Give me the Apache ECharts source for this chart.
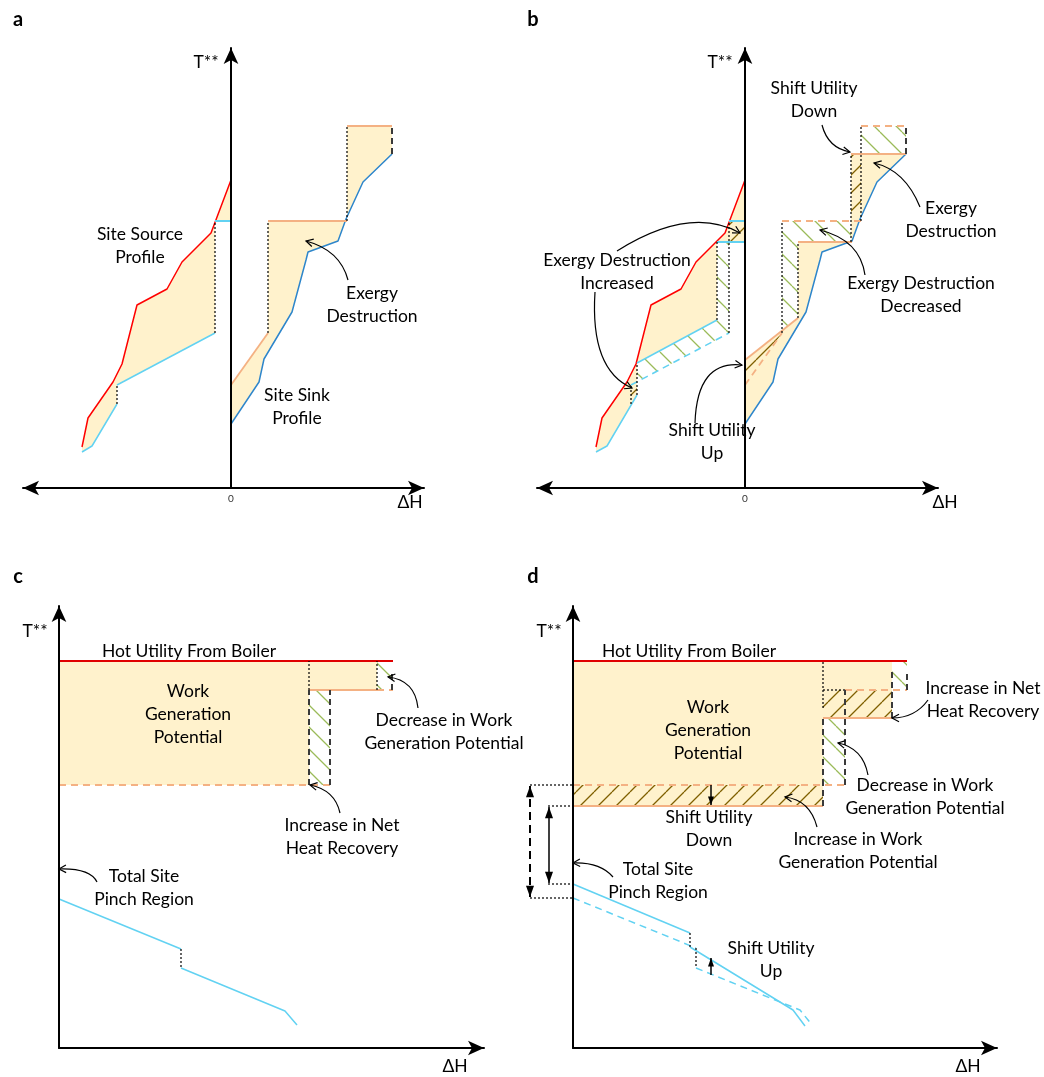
<!DOCTYPE html>
<html><head><meta charset="utf-8">
<script src="https://cdn.jsdelivr.net/npm/echarts@6/dist/echarts.min.js"></script>
<style>html,body{margin:0;padding:0;background:#fff}#c{width:1044px;height:1077px}</style>
</head><body><div id="c"></div>
<script>
// ================= DATA =================
// Panels a & b : site source / sink profiles (ΔH, T**)
const sourceHot      = [[-149,41],[-143,70],[-118,106],[-109,124],[-94,183],[-64,199],[-49,226],[-20,255],[0,308]];
const sourceColdLow  = [[-149,36],[-139,42],[-114,84]];
const sourceColdMid  = [[-114,103],[-16,155]];
const sourceColdTop  = [[-16,267],[0,267]];
const sinkCold       = [[0,64],[28,106],[33,129],[61,176],[75,228],[77,236],[107,247],[115,269],[132,306],[161,334]];
const sinkHotLow     = [[0,103],[37,155]];
const sinkHotMid     = [[37,267],[116,267]];
const sinkHotTop     = [[116,362],[161,362]];
// Panel b : shifted utility levels
const bSourceColdLow = [[-149,36],[-138,42],[-108,93]];
const bSourceColdMid = [[-108,125],[-28,168]];
const bSourceColdTop = [[-28,246],[0,246]];
const bSinkHotLow    = [[0,128],[53,170]];
const bSinkHotMid    = [[53,246],[107,246]];
const bSinkHotTop    = [[106,334],[161,334]];
// Panels c & d : total site profiles
const hotUtility     = [[0,387],[334,387]];
const cWorkBox       = [[0,263],[250,263],[250,358],[318,358],[318,387],[0,387]];
const cPinchLow      = [[0,149],[122,99]];
const cPinchHigh     = [[122,80],[226,37],[238,23]];
const dWorkBox       = [[0,242],[250,242],[250,330],[319,330],[319,387],[0,387]];
const dPinchNewLow   = [[0,164],[117,115]];
const dPinchNewHigh  = [[117,101],[220,38],[232,22]];
const dPinchOldLow   = [[0,150],[123,100]];
const dPinchOldHigh  = [[123,80],[227,38],[239,23]];

// ================= STYLE =================
const FONT = 'Lato, "Open Sans", sans-serif';
const TXT = '17.5px ' + FONT, BOLD = 'bold 20px ' + FONT;
const RED='#FF0000', CYAN='#62D2F2', BLUE='#2E86CB', ORANGE='#F4B183', PEACH='#FFF2CC', GREEN='#9BBB59', BROWN='#7F6000';
function hatch(color, dir, size){
  const c=document.createElement('canvas'); c.width=c.height=size;
  const g=c.getContext('2d'); g.strokeStyle=color; g.lineWidth=1.3; g.beginPath();
  for(const k of [-size,0,size]){
    if(dir==='\\'){g.moveTo(k,0);g.lineTo(k+size,size);} else {g.moveTo(k,size);g.lineTo(k+size,0);}
  }
  g.stroke(); return {image:c, repeat:'repeat'};
}
const HG = hatch(GREEN,'\\',22), HB = hatch(BROWN,'/',18);

const series=[];
function line(gi, pts, color, width, dash, z){
  series.push({type:'line', xAxisIndex:gi, yAxisIndex:gi, data:pts, symbol:'none', showSymbol:false, clip:false,
    silent:true, animation:false, z:z||5, lineStyle:{color, width, type:dash||'solid'}});
}
const DOT=[2,2], DASH=[7,5];
function segs(gi, list, color, width, dash, z){
  series.push({type:'custom', xAxisIndex:gi, yAxisIndex:gi, clip:false, silent:true, animation:false, z:z||6,
    data:list.map(s=>[s[0][0],s[0][1]]),
    renderItem:(p,api)=>({type:'polyline', shape:{points:list[p.dataIndex].map(q=>api.coord(q))},
      style:{stroke:color, lineWidth:width, lineDash:dash, fill:null}})});
}
function dotted(gi, list){ segs(gi, list, '#000', 1.2, DOT, 6); }
function blackDash(gi, list){ segs(gi, list, '#3a3a3a', 2, [6,4], 6); }
function poly(gi, pts, fill, z){
  series.push({type:'custom', xAxisIndex:gi, yAxisIndex:gi, clip:false, silent:true, animation:false, z:z||1,
    data:[[pts[0][0],pts[0][1]]],
    renderItem:(p,api)=>({type:'polygon', shape:{points:pts.map(q=>api.coord(q))}, style:{fill, stroke:null}})});
}
function rect(x0,y0,x1,y1){ return [[x0,y0],[x1,y0],[x1,y1],[x0,y1]]; }
function texts(gi, items){
  series.push({type:'custom', xAxisIndex:gi, yAxisIndex:gi, clip:false, silent:true, animation:false, z:10,
    data:items.map(t=>[t[0],t[1]]),
    renderItem:(p,api)=>{const t=items[p.dataIndex]; const c=api.coord([t[0],t[1]]);
      return {type:'text', x:c[0], y:c[1], style:{text:t[2], font:t[3]||TXT, fill:'#000',
        align:'center', verticalAlign:'middle', lineHeight:23}};}});
}
function curves(gi, items){
  series.push({type:'custom', xAxisIndex:gi, yAxisIndex:gi, clip:false, silent:true, animation:false, z:9,
    data:items.map(t=>[t[0],t[1]]),
    renderItem:(p,api)=>{const t=items[p.dataIndex];
      const s=api.coord([t[0],t[1]]), c=api.coord([t[2],t[3]]), e=api.coord([t[4],t[5]]);
      const ang=Math.atan2(e[1]-c[1],e[0]-c[0]), L=8, a=0.5;
      const h1=[e[0]-L*Math.cos(ang-a),e[1]-L*Math.sin(ang-a)], h2=[e[0]-L*Math.cos(ang+a),e[1]-L*Math.sin(ang+a)];
      return {type:'group', children:[
        {type:'bezierCurve', shape:{x1:s[0],y1:s[1],x2:e[0],y2:e[1],cpx1:c[0],cpy1:c[1]}, style:{stroke:'#000',lineWidth:1.2,fill:null}},
        {type:'polyline', shape:{points:[h1,e,h2]}, style:{stroke:'#000',lineWidth:1.2,fill:null}}]};}});
}
function arrows(gi, items){
  series.push({type:'custom', xAxisIndex:gi, yAxisIndex:gi, clip:false, silent:true, animation:false, z:9,
    data:items.map(t=>[t[0],t[1]]),
    renderItem:(p,api)=>{const t=items[p.dataIndex];
      const s=api.coord([t[0],t[1]]), e=api.coord([t[2],t[3]]); const sz=t[6];
      const head=(tip,from)=>{const ang=Math.atan2(tip[1]-from[1],tip[0]-from[0]);
        const bx=tip[0]-sz*1.4*Math.cos(ang), by=tip[1]-sz*1.4*Math.sin(ang);
        const w=sz*0.5;
        return {type:'polygon', shape:{points:[tip,[bx-w*Math.sin(ang),by+w*Math.cos(ang)],[bx+w*Math.sin(ang),by-w*Math.cos(ang)]]}, style:{fill:'#000'}};};
      const ch=[{type:'line', shape:{x1:s[0],y1:s[1],x2:e[0],y2:e[1]}, style:{stroke:'#000',lineWidth:t[5]?2:1.5,lineDash:t[5]?[8,5]:null}}, head(e,s)];
      if(t[4]) ch.push(head(s,e));
      return {type:'group', children:ch};}});
}

// ================= PANEL a =================
poly(0, sourceHot.concat([[0,267],[-16,267],[-16,155],[-114,103],[-114,84],[-139,42],[-149,36]]), PEACH);
poly(0, sinkCold.concat([[161,362],[116,362],[116,267],[37,267],[37,155],[0,103]]), PEACH);
line(0, sourceHot, RED, 1.5);
line(0, sourceColdLow, CYAN, 1.5); line(0, sourceColdMid, CYAN, 1.5); line(0, sourceColdTop, CYAN, 2);
line(0, sinkCold, BLUE, 1.5);
line(0, sinkHotLow, ORANGE, 1.8); line(0, sinkHotMid, ORANGE, 2.2); line(0, sinkHotTop, ORANGE, 2.2);
dotted(0, [[[-114,84],[-114,103]],[[-16,155],[-16,267]],[[37,155],[37,267]],[[116,267],[116,362]]]);
blackDash(0, [[[161,334],[161,362]]]);
texts(0, [[-213,468,'a',BOLD],[-25,426,'T**'],[179,-14,'ΔH'],
  [-91,242,'Site Source\nProfile'],[141,183,'Exergy\nDestruction'],[66,81,'Site Sink\nProfile']]);
curves(0, [[117,208,109,238,75,247]]);

// ================= PANEL b =================
poly(1, sourceHot.concat([[0,246],[-28,246],[-28,168],[-108,125],[-108,93],[-138,42],[-149,36]]), PEACH);
poly(1, sinkCold.concat([[106,334],[106,246],[53,246],[53,170],[0,128]]), PEACH);
// hatched: brown = exergy destruction increased, green = decreased
[[[-114,84],[-108,93],[-108,106],[-114,103]], rect(-16,246,0,267), [[0,103],[37,155],[37,157],[0,128]], rect(106,267,116,334)]
  .forEach(p=>poly(1,p,HB,2));
[[[-108,125],[-28,168],[-28,246],[-16,246],[-16,155],[-108,106]], [[37,157],[37,267],[106,267],[106,246],[53,246],[53,170]], rect(116,334,161,362)]
  .forEach(p=>poly(1,p,HG,2));
line(1, sourceHot, RED, 1.5);
line(1, bSourceColdLow, CYAN, 1.5); line(1, bSourceColdMid, CYAN, 1.5); line(1, bSourceColdTop, CYAN, 2);
line(1, sourceColdMid, CYAN, 1.5, DASH); line(1, sourceColdTop, CYAN, 2);
line(1, sinkCold, BLUE, 1.5);
line(1, bSinkHotLow, ORANGE, 1.8); line(1, bSinkHotMid, ORANGE, 2.2); line(1, bSinkHotTop, ORANGE, 2.2);
line(1, sinkHotLow, ORANGE, 1.8, DASH); line(1, sinkHotMid, ORANGE, 2.2, DASH); line(1, sinkHotTop, ORANGE, 2.2, DASH);
dotted(1, [[[-114,84],[-114,104]],[[-108,93],[-108,125]],[[-28,168],[-28,246]],[[-16,155],[-16,267]],
  [[37,155],[37,267]],[[53,170],[53,246]],[[106,246],[106,334]],[[116,267],[116,362]]]);
blackDash(1, [[[161,334],[161,362]]]);
texts(1, [[-212,468,'b',BOLD],[-25,426,'T**'],[200,-14,'ΔH'],
  [69,388,'Shift Utility\nDown'],[206,268,'Exergy\nDestruction'],[-128,216,'Exergy Destruction\nIncreased'],
  [176,193,'Exergy Destruction\nDecreased'],[-33,46,'Shift Utility\nUp']]);
curves(1, [[77,363,83,340,105,336],[175,281,160,318,129,325],[-128,237,-55,283,-5,255],
  [-150,196,-155,118,-113,100],[120,213,115,248,75,258],[-50,65,-48,128,-3,123]]);

// ================= PANEL c =================
poly(2, cWorkBox, PEACH);
poly(2, rect(318,358,334,387), HG, 2); poly(2, rect(250,263,271,358), HG, 2);
line(2, hotUtility, '#E00000', 1.8);
line(2, [[250,358],[318,358]], ORANGE, 2.2);
segs(2, [[[318,358],[334,358]],[[0,263],[271,263]]], ORANGE, 2, DASH, 5);
dotted(2, [[[250,358],[250,387]],[[318,358],[318,387]]]);
blackDash(2, [[[250,263],[250,358]],[[271,263],[271,358]],[[333,358],[333,376]]]);
line(2, cPinchLow, CYAN, 1.5); line(2, cPinchHigh, CYAN, 1.5);
dotted(2, [[[122,99],[122,80]]]);
texts(2, [[-41,471,'c',BOLD],[-24,417,'T**'],[396,-18,'ΔH'],
  [130,397,'Hot Utility From Boiler'],[129,334,'Work\nGeneration\nPotential'],
  [385,316,'Decrease in Work\nGeneration Potential'],[283,211,'Increase in Net\nHeat Recovery'],[85,160,'Total Site\nPinch Region']]);
curves(2, [[359,340,356,368,329,371],[281,235,276,258,251,263],[38,166,31,180,0,179]]);

// ================= PANEL d =================
poly(3, dWorkBox, PEACH);
poly(3, rect(0,242,250,263), HB, 2); poly(3, rect(250,330,319,358), HB, 2);
poly(3, rect(319,358,334,387), HG, 2); poly(3, rect(250,263,272,330), HG, 2);
line(3, hotUtility, '#E00000', 1.8);
line(3, [[0,242],[250,242]], ORANGE, 2.2); line(3, [[250,330],[319,330]], ORANGE, 2.2);
segs(3, [[[0,263],[272,263]],[[272,358],[334,358]]], ORANGE, 2, DASH, 5);
dotted(3, [[[250,340],[250,387]],[[250,358],[272,358]],
  [[-43,263],[0,263]],[[-25,242],[0,242]],[[-25,164],[0,164]],[[-43,150],[0,150]],
  [[117,115],[117,101]],[[123,100],[123,80]]]);
blackDash(3, [[[250,242],[250,263]],[[250,263],[250,330]],[[272,263],[272,358]],[[319,330],[319,376]],[[334,358],[334,377]]]);
line(3, dPinchNewLow, CYAN, 1.5); line(3, dPinchNewHigh, CYAN, 1.5);
line(3, dPinchOldLow, CYAN, 1.5, DASH); line(3, dPinchOldHigh, CYAN, 1.5, DASH);
arrows(3, [[138,263,138,243,false,false,6],[138,73,138,90,false,false,6],[-43,262,-43,151,true,true,8],[-24,241,-24,165,true,false,8]]);
texts(3, [[-40,471,'d',BOLD],[-24,417,'T**'],[395,-18,'ΔH'],
  [116,397,'Hot Utility From Boiler'],[135,318,'Work\nGeneration\nPotential'],
  [410,348,'Increase in Net\nHeat Recovery'],[352,251,'Decrease in Work\nGeneration Potential'],
  [136,219,'Shift Utility\nDown'],[285,197,'Increase in Work\nGeneration Potential'],
  [85,167,'Total Site\nPinch Region'],[198,88,'Shift Utility\nUp']]);
curves(3, [[355,348,342,330,319,330],[295,273,290,300,265,305],[244,221,237,248,212,251],[40,171,27,186,0,185]]);

// ================= AXES =================
const grids=[{left:23,top:48,width:401,height:440},{left:537,top:48,width:401,height:440},
             {left:59,top:606,width:425,height:442},{left:573,top:606,width:424,height:442}];
const xRanges=[[-208,193],[-208,193],[0,425],[0,424]];
const yMax=[440,440,442,442];
const axLine=(sym)=>({show:true,onZero:true,symbol:sym,symbolSize:[11,16],lineStyle:{color:'#000',width:2}});
const option={
  backgroundColor:'#fff', animation:false,
  grid:grids,
  xAxis:grids.map((g,i)=>({type:'value',gridIndex:i,min:xRanges[i][0],max:xRanges[i][1],interval:i<2?208:undefined,z:8,
    splitLine:{show:false},axisTick:{show:false},
    axisLabel:i<2?{show:true,formatter:v=>v===0?'0':'',fontSize:10,color:'#333',margin:6,fontFamily:FONT}:{show:false},
    axisLine:axLine(i<2?['arrow','arrow']:['none','arrow'])})),
  yAxis:grids.map((g,i)=>({type:'value',gridIndex:i,min:0,max:yMax[i],z:8,
    splitLine:{show:false},axisTick:{show:false},axisLabel:{show:false},axisLine:axLine(['none','arrow'])})),
  series
};
const chart=echarts.init(document.getElementById('c'),null,{renderer:'canvas'});
chart.setOption(option);
</script></body></html>
